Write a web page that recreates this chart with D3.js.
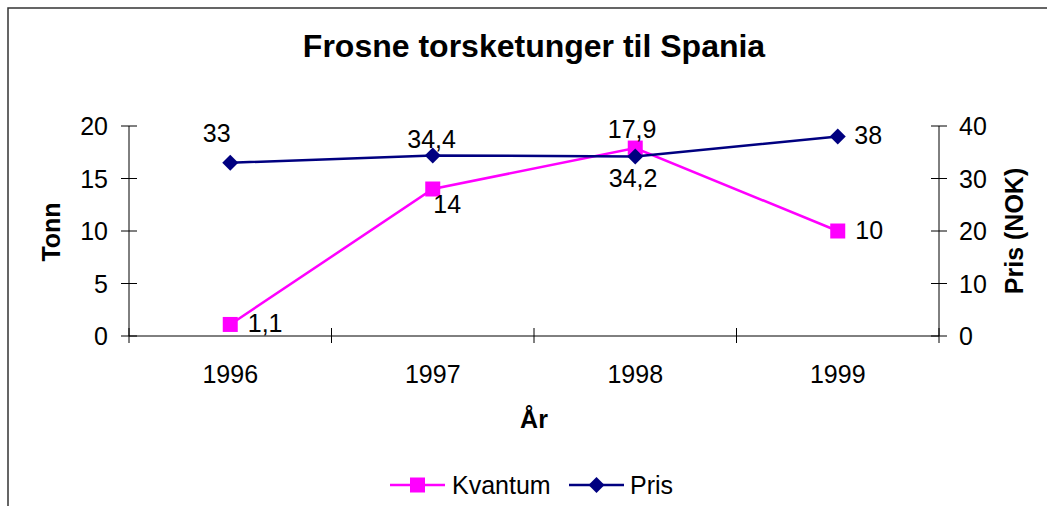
<!DOCTYPE html>
<html>
<head>
<meta charset="utf-8">
<script src="https://cdn.jsdelivr.net/npm/d3@7"></script>
<style>
  html, body { margin: 0; padding: 0; background: #fff; }
  svg { display: block; font-family: "Liberation Sans", Arial, sans-serif; }
</style>
</head>
<body>
<svg id="chart" width="1047" height="506"></svg>
<script>
// ---- data ----
const years = ["1996", "1997", "1998", "1999"];
const kvantum = [1.1, 14, 17.9, 10];
const pris = [33, 34.4, 34.2, 38];
const kvantumLabels = ["1,1", "14", "17,9", "10"];
const prisLabels = ["33", "34,4", "34,2", "38"];
const leftTicks = [0, 5, 10, 15, 20];
const rightTicks = [0, 10, 20, 30, 40];

// ---- label placement (layout, offsets from point) ----
const kvantumLabelOffsets = [[17.5, 7.5], [0.5, 24], [-27.5, -10], [17.5, 8]];
const prisLabelOffsets = [[-27.5, -21], [-25.5, -7.5], [-26.5, 30.5], [16.5, 7]];

const svg = d3.select("#chart");
const W = 1047, H = 506;
const plot = { left: 129, right: 939, top: 126, bottom: 336 };

// outer border (extends past right/bottom window edge)
svg.append("rect")
  .attr("x", 8).attr("y", 8)
  .attr("width", 1100).attr("height", 600)
  .attr("fill", "#fff").attr("stroke", "#333").attr("stroke-width", 1.5);

const x = d3.scaleBand().domain(years).range([plot.left, plot.right]).paddingInner(0).paddingOuter(0);
const yL = d3.scaleLinear().domain([0, 20]).range([plot.bottom, plot.top]);
const yR = d3.scaleLinear().domain([0, 40]).range([plot.bottom, plot.top]);
const cx = d => x(d) + x.bandwidth() / 2;

// Title
svg.append("text")
  .attr("x", 534).attr("y", 57)
  .attr("text-anchor", "middle")
  .attr("font-size", 32).attr("font-weight", "bold")
  .text("Frosne torsketunger til Spania");

// Axes
const axisColor = "#000";
// left axis
const gL = svg.append("g");
gL.append("line").attr("x1", plot.left).attr("x2", plot.left)
  .attr("y1", plot.top).attr("y2", plot.bottom).attr("stroke", axisColor);
leftTicks.forEach(t => {
  gL.append("line").attr("x1", plot.left - 8).attr("x2", plot.left + 8)
    .attr("y1", yL(t)).attr("y2", yL(t)).attr("stroke", axisColor);
  gL.append("text").attr("x", 108).attr("y", yL(t) + 9)
    .attr("text-anchor", "end").attr("font-size", 25).text(t);
});
// right axis
const gR = svg.append("g");
gR.append("line").attr("x1", plot.right).attr("x2", plot.right)
  .attr("y1", plot.top).attr("y2", plot.bottom).attr("stroke", axisColor);
rightTicks.forEach(t => {
  gR.append("line").attr("x1", plot.right - 8).attr("x2", plot.right + 8)
    .attr("y1", yR(t)).attr("y2", yR(t)).attr("stroke", axisColor);
  gR.append("text").attr("x", 959).attr("y", yR(t) + 9)
    .attr("text-anchor", "start").attr("font-size", 25).text(t);
});
// x axis
const gX = svg.append("g");
gX.append("line").attr("x1", plot.left).attr("x2", plot.right)
  .attr("y1", plot.bottom).attr("y2", plot.bottom).attr("stroke", axisColor);
const boundaries = years.map(d => x(d)).concat([x(years[years.length - 1]) + x.bandwidth()]);
boundaries.forEach(b => {
  gX.append("line").attr("x1", b).attr("x2", b)
    .attr("y1", plot.bottom - 8).attr("y2", plot.bottom + 7).attr("stroke", axisColor);
});
years.forEach(d => {
  gX.append("text").attr("x", cx(d)).attr("y", 383)
    .attr("text-anchor", "middle").attr("font-size", 25).text(d);
});

// Axis titles
svg.append("text")
  .attr("transform", `translate(60,${(plot.top + plot.bottom) / 2 + 1}) rotate(-90)`)
  .attr("text-anchor", "middle").attr("font-size", 25).attr("font-weight", "bold")
  .text("Tonn");
svg.append("text")
  .attr("transform", `translate(1023,${(plot.top + plot.bottom) / 2}) rotate(-90)`)
  .attr("text-anchor", "middle").attr("font-size", 25).attr("font-weight", "bold")
  .text("Pris (NOK)");
svg.append("text")
  .attr("x", (plot.left + plot.right) / 2).attr("y", 428)
  .attr("text-anchor", "middle").attr("font-size", 25).attr("font-weight", "bold")
  .text("År");

const pink = "#FF00FF", navy = "#000080";
const squareSym = d3.symbol().type(d3.symbolSquare).size(15 * 15);
const diamondPath = s => `M0,${-s}L${s},0L0,${s}L${-s},0Z`;

// Kvantum series
const kvData = years.map((d, i) => ({ x: cx(d), y: yL(kvantum[i]), label: kvantumLabels[i], off: kvantumLabelOffsets[i] }));
svg.append("path")
  .attr("d", d3.line().x(d => d.x).y(d => d.y)(kvData))
  .attr("fill", "none").attr("stroke", pink).attr("stroke-width", 2.5);
svg.selectAll(".kvm").data(kvData).join("path")
  .attr("transform", d => `translate(${d.x},${d.y})`)
  .attr("d", squareSym).attr("fill", pink);

// Pris series
const prData = years.map((d, i) => ({ x: cx(d), y: yR(pris[i]), label: prisLabels[i], off: prisLabelOffsets[i] }));
svg.append("path")
  .attr("d", d3.line().x(d => d.x).y(d => d.y)(prData))
  .attr("fill", "none").attr("stroke", navy).attr("stroke-width", 2.5);
svg.selectAll(".prm").data(prData).join("path")
  .attr("transform", d => `translate(${d.x},${d.y})`)
  .attr("d", diamondPath(8)).attr("fill", navy);

// Data labels
[kvData, prData].forEach(arr => {
  arr.forEach(d => {
    svg.append("text").attr("x", d.x + d.off[0]).attr("y", d.y + d.off[1])
      .attr("font-size", 25).text(d.label);
  });
});

// Legend
const lg = svg.append("g");
const legY = 485;
lg.append("line").attr("x1", 390).attr("x2", 445).attr("y1", legY).attr("y2", legY)
  .attr("stroke", pink).attr("stroke-width", 2.5);
lg.append("path").attr("transform", `translate(417.5,${legY})`).attr("d", squareSym).attr("fill", pink);
lg.append("text").attr("x", 452).attr("y", 494).attr("font-size", 25).text("Kvantum");
lg.append("line").attr("x1", 569).attr("x2", 624).attr("y1", legY).attr("y2", legY)
  .attr("stroke", navy).attr("stroke-width", 2.5);
lg.append("path").attr("transform", `translate(596.5,${legY})`).attr("d", diamondPath(8)).attr("fill", navy);
lg.append("text").attr("x", 630).attr("y", 494).attr("font-size", 25).text("Pris");
</script>
</body>
</html>
